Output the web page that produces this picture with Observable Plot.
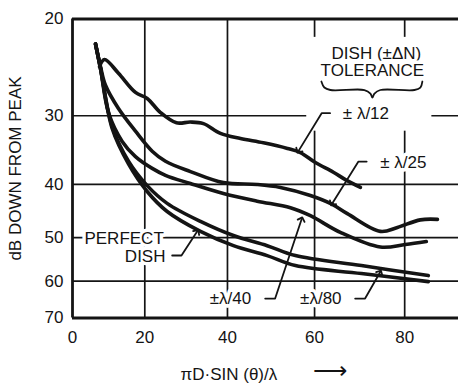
<!DOCTYPE html>
<html><head><meta charset="utf-8">
<script src="https://cdn.jsdelivr.net/npm/d3@7"></script>
<script src="https://cdn.jsdelivr.net/npm/@observablehq/plot@0.6"></script>
<style>body{margin:0;background:#fff} svg{display:block}</style>
</head><body><div id="chart"></div>
<script>
// axis ticks
const xTicks = [0, 20, 40, 60, 80];
const yTicks = [20, 30, 40, 50, 60, 70];

// curves: x = πD·sin(θ)/λ, y = dB down from peak
const tol12X = [8.17, 9.53, 13.25, 17.64, 20.60, 23.91, 27.83, 31.21, 34.32, 38.35, 43.04, 48.35, 53.85, 56.80, 60.18, 64.22, 66.90, 70.25];
const tol12Y = [24.4, 23.7, 25.1, 27.2, 27.9, 29.6, 30.9, 30.8, 31.0, 32.3, 33.0, 33.6, 34.4, 35.0, 36.5, 38.0, 39.2, 40.5];

const tol25X = [7.06, 8.44, 9.80, 13.25, 17.64, 21.85, 25.14, 31.21, 39.05, 46.90, 52.26, 59.06, 63.77, 67.34, 74.66, 78.40, 83.42, 87.14];
const tol25Y = [22.2, 24.4, 26.4, 29.1, 32.0, 34.8, 36.3, 37.9, 39.7, 40.0, 40.5, 41.9, 43.4, 45.2, 48.7, 47.9, 46.4, 46.3];

const tol40X = [7.06, 8.44, 10.61, 14.22, 17.64, 21.85, 25.14, 31.21, 39.05, 46.90, 54.53, 59.06, 65.78, 74.66, 80.14, 84.73];
const tol40Y = [22.2, 24.6, 29.6, 33.4, 35.6, 37.4, 38.5, 39.85, 41.55, 42.9, 44.1, 45.6, 48.9, 52.0, 51.45, 50.8];

const tol80X = [7.06, 8.44, 11.59, 15.85, 20.60, 25.55, 33.61, 41.40, 49.21, 55.67, 70.48, 85.16];
const tol80Y = [22.2, 24.6, 31.4, 36.3, 40.2, 43.3, 46.7, 49.55, 51.7, 53.9, 56.2, 58.6];

const perfectX = [7.06, 8.44, 11.59, 15.85, 20.60, 25.55, 33.61, 41.40, 49.21, 55.67, 70.48, 85.16];
const perfectY = [22.2, 24.6, 31.65, 36.7, 41.2, 44.8, 48.7, 51.7, 53.9, 56.2, 58.1, 60.1];

const seriesNames = ["±λ/12", "±λ/25", "±λ/40", "±λ/80", "perfect"];
const seriesX = [tol12X, tol25X, tol40X, tol80X, perfectX];
const seriesY = [tol12Y, tol25Y, tol40Y, tol80Y, perfectY];

// annotation labels (data coordinates)
const annoText = ["DISH (±ΔN)", "TOLERANCE", "± λ/12", "± λ/25", "±λ/40", "±λ/80"];
const annoX = [73.78, 72.90, 71.47, 79.71, 40.70, 61.41];
const annoY = [23.11, 24.84, 29.72, 36.44, 64.6, 64.6];
const perfText = ["PERFECT", "DISH"];
const perfX = [24.72, 25.14];
const perfY = [50.17, 54.03];

// leader lines (data coordinates), each ending in an arrow
const leaderId = ["a","a","a", "b","b","b", "c","c","c", "d","d","d", "e","e","e"];
const leaderX = [63.48, 61.59, 56.35,  71.63, 69.81, 63.93,  48.76, 51.04, 57.09,  69.08, 71.28, 74.60,  26.78, 29.04, 32.81];
const leaderY = [29.68, 29.68, 34.79,  36.35, 36.35, 43.38,  64.52, 64.52, 46.24,  64.52, 64.52, 57.79,  53.87, 53.87, 48.72];

// brace under "TOLERANCE"
const braceX = [61.53, 62.20, 63.55, 71.13, 72.46, 72.90, 73.35, 74.66, 82.13, 83.42, 83.86];
const braceY = [25.99, 26.65, 26.93, 26.93, 27.33, 27.80, 27.33, 26.93, 26.93, 26.65, 25.99];

// blank area behind the tolerance legend
const maskX = [58.23, 85.93];
const maskY = [21.6, 32.0];

const rows = seriesNames.flatMap((s, k) => seriesX[k].map((x, i) => ({series: s, x, y: seriesY[k][i]})));
const annos = annoText.map((t, i) => ({t, x: annoX[i], y: annoY[i]}));
const perfs = perfText.map((t, i) => ({t, x: perfX[i], y: perfY[i]}));
const leaders = leaderId.map((id, i) => ({id, x: leaderX[i], y: leaderY[i]}));
const brace = braceX.map((x, i) => ({x, y: braceY[i]}));

const ink = "#141414";
const font = "'Liberation Sans', Arial, sans-serif";

const chart = Plot.plot({
  width: 458, height: 387,
  marginLeft: 72, marginRight: 0, marginTop: 18.5, marginBottom: 69.5,
  style: {fontFamily: font, fontSize: "17px", color: ink, background: "#fff", overflow: "visible"},
  x: {type: "pow", exponent: 1.1, domain: [0, 91.7], ticks: xTicks,
      tickSize: 0, tickPadding: 13, tickFormat: d => String(d), label: null},
  y: {type: "log", domain: [20, 70], reverse: true, ticks: yTicks,
      tickSize: 0, tickPadding: 9, tickFormat: d => String(d), label: null},
  marks: [
    Plot.ruleX([20, 40, 60, 80], {stroke: ink, strokeWidth: 1.7}),
    Plot.ruleY([30, 40, 50, 60], {stroke: ink, strokeWidth: 1.7}),
    Plot.rect([0], {x1: () => maskX[0], x2: () => maskX[1], y1: () => maskY[0], y2: () => maskY[1], fill: "white"}),
    Plot.ruleY([20, 70], {stroke: ink, strokeWidth: 2.8}),
    Plot.ruleX([0], {stroke: ink, strokeWidth: 2.8}),
    Plot.text(annos, {x: "x", y: "y", text: "t", fontSize: 17, fill: ink, stroke: "white", strokeWidth: 7, paintOrder: "stroke"}),
    Plot.text(perfs, {x: "x", y: "y", text: "t", fontSize: 17, textAnchor: "end", fill: ink, stroke: "white", strokeWidth: 7, paintOrder: "stroke"}),
    Plot.line(rows, {x: "x", y: "y", z: "series", curve: "catmull-rom", stroke: ink, strokeWidth: 3.6, strokeLinecap: "round", strokeLinejoin: "round"}),
    Plot.line(leaders, {x: "x", y: "y", z: "id", stroke: ink, strokeWidth: 1.8, markerEnd: "arrow"}),
    Plot.line(brace, {x: "x", y: "y", curve: "catmull-rom", stroke: ink, strokeWidth: 1.8}),
    Plot.text([0], {text: () => "dB DOWN FROM PEAK", frameAnchor: "left", textAnchor: "middle", rotate: -90, dx: -57, fontSize: 17, fill: ink}),
    Plot.text([0], {text: () => "πD·SIN (θ)/λ", frameAnchor: "bottom-left", textAnchor: "start", dx: 108, dy: 62, fontSize: 17, fill: ink}),
    Plot.text([0], {text: () => "⟶", frameAnchor: "bottom-left", textAnchor: "start", dx: 240, dy: 61, fontSize: 24, fill: ink})
  ]
});
document.getElementById("chart").appendChild(chart);
</script>
</body></html>
